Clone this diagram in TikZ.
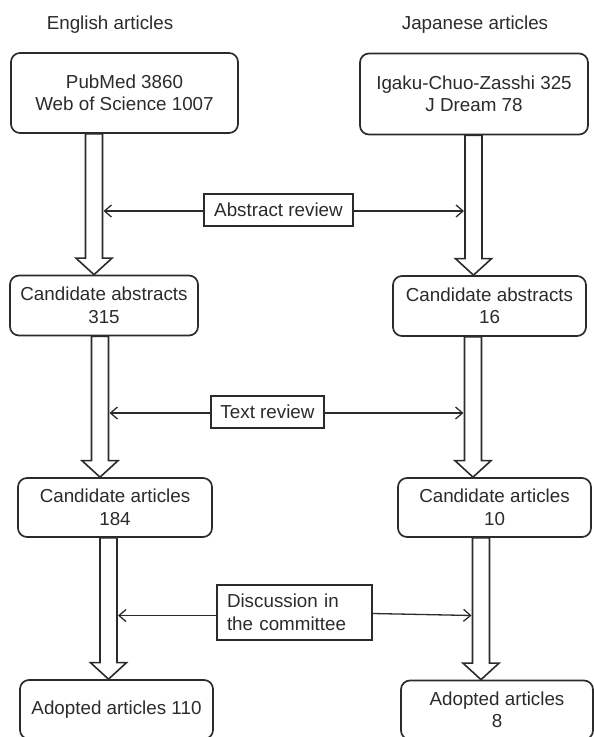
\documentclass[tikz,border=0pt]{standalone}
\usepackage{fontspec}
\setmainfont{Liberation Sans}
\usetikzlibrary{arrows.meta,calc}
\definecolor{ink}{HTML}{2B2B2B}
\begin{document}
\begin{tikzpicture}[x=1pt,y=-1pt,
  every node/.style={font=\fontsize{18.8}{22.5}\selectfont, text=ink},
  rbox/.style={draw=ink, line width=1.7pt, rounded corners=9pt, fill=white, align=center, inner sep=0pt},
  sbox/.style={draw=ink, line width=1.3pt, fill=white, inner sep=0pt},
  fat/.style={draw=ink, line width=1.6pt, fill=white, line join=miter,
    to path={let \p1=(\tikztostart), \p2=(\tikztotarget) in
      (\x2-8.5pt,\y1) -- (\x2-8.5pt,\y2+16.5pt) -- (\x2-18pt,\y2+16.5pt) -- (\x2,\y2)
      -- (\x2+18pt,\y2+16.5pt) -- (\x2+8.5pt,\y2+16.5pt) -- (\x2+8.5pt,\y1) -- cycle}},
  tarr/.style={draw=ink, line width=1.3pt, -{Straight Barb[length=7pt,width=12pt]}}]
\useasboundingbox (0,0) rectangle (594,737);

% headings
\node (hE) at (110,25) {English articles};
\node (hJ) at (475,25) {Japanese articles};

% boxes
\node[rbox, minimum width=227pt, minimum height=80pt] (b1) at (124.5,93) {PubMed 3860\\Web of Science 1007};
\node[rbox, minimum width=228pt, minimum height=81pt] (b2) at (474,94) {Igaku-Chuo-Zasshi 325\\J Dream 78};
\node[rbox, minimum width=188pt, minimum height=60pt] (b3) at (104,305.5) {Candidate abstracts\\315};
\node[rbox, minimum width=193pt, minimum height=60pt] (b4) at (489.5,306) {Candidate abstracts\\16};
\node[rbox, minimum width=194pt, minimum height=59pt] (b5) at (115,507.5) {Candidate articles\\184};
\node[rbox, minimum width=193pt, minimum height=59pt] (b6) at (494.5,507.5) {Candidate articles\\10};
\node[rbox, minimum width=193pt, minimum height=59pt] (b7) at (116.5,709.5) {Adopted articles 110};
\node[rbox, minimum width=192pt, minimum height=59pt] (b8) at (497,710) {Adopted articles\\8};

% review boxes
\node[sbox, minimum width=149pt, minimum height=32pt] (r1) at (278.5,210) {Abstract review};
\node[sbox, minimum width=113pt, minimum height=32pt] (r2) at (267.5,412) {Text review};
\node[sbox, text width=135pt, inner xsep=10pt, align=left, minimum height=55pt] (r3) at (294.5,612.5) {Discussion in\\the committee};

% fat arrow tips
\coordinate (a1t) at ([xshift=-10pt]b3.north);
\coordinate (a2t) at ([xshift=-16pt]b4.north);
\coordinate (a3t) at ([xshift=-15pt]b5.north);
\coordinate (a4t) at ([xshift=-21.5pt]b6.north);
\coordinate (a5t) at ([xshift=-8pt]b7.north);
\coordinate (a6t) at ([xshift=-16pt]b8.north);

\draw[fat] (b1.south -| a1t) to (a1t);
\draw[fat] (b2.south -| a2t) to (a2t);
\draw[fat] (b3.south -| a3t) to (a3t);
\draw[fat] (b4.south -| a4t) to (a4t);
\draw[fat] (b5.south -| a5t) to (a5t);
\draw[fat] (b6.south -| a6t) to (a6t);

% thin arrows
\draw[tarr] ([yshift=-1pt]r1.west) -- ($([yshift=-1pt]r1.west -| a1t)+(9.5,0)$);
\draw[tarr] ([yshift=-1pt]r1.east) -- ($([yshift=-1pt]r1.east -| a2t)+(-9.5,0)$);
\draw[tarr] ([yshift=-1pt]r2.west) -- ($([yshift=-1pt]r2.west -| a3t)+(9.5,0)$);
\draw[tarr] ([yshift=-1pt]r2.east) -- ($([yshift=-1pt]r2.east -| a4t)+(-9.5,0)$);
\draw[tarr] ([yshift=-3pt]r3.west) -- ($([yshift=-3pt]r3.west -| a5t)+(9.5,0)$);
\draw[tarr] ([yshift=-1pt]r3.east) -- ($([yshift=-3pt]r3.east -| a6t)+(-9.5,0)$);
\end{tikzpicture}
\end{document}
